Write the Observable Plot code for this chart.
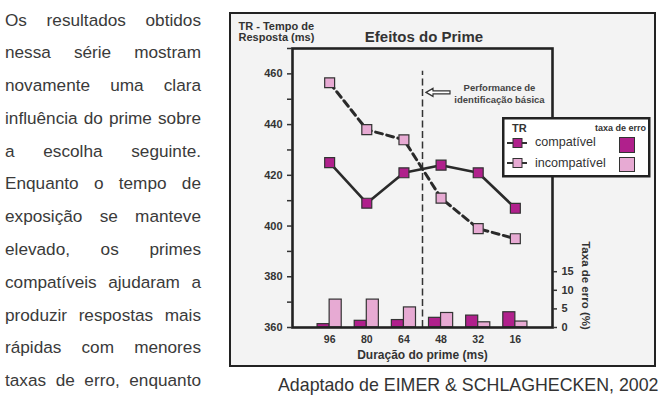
<!DOCTYPE html>
<html><head><meta charset="utf-8">
<script src="https://cdn.jsdelivr.net/npm/d3@7"></script>
<script src="https://cdn.jsdelivr.net/npm/@observablehq/plot@0.6"></script>
<style>
body{margin:0;width:660px;height:398px;overflow:hidden;background:#fff;font-family:"Liberation Sans",Arial,sans-serif;position:relative}
#para{position:absolute;left:5px;top:3.5px;width:196px;font-size:17.2px;line-height:32.8px;color:#3a3a3a}
#para div{text-align:justify;text-align-last:justify;height:32.8px}
#box{position:absolute;left:229px;top:12px;width:423px;height:351px;border:2.5px solid #222;background:#f3f3f3}
#chart{position:absolute;left:0;top:0}
#legend{position:absolute;left:502px;top:117px}
#caption{position:absolute;left:278px;top:375px;font-size:17.8px;color:#333;white-space:nowrap}
</style></head>
<body>
<div id="para">
<div>Os resultados obtidos</div>
<div>nessa série mostram</div>
<div>novamente uma clara</div>
<div>influência do prime sobre</div>
<div>a escolha seguinte.</div>
<div>Enquanto o tempo de</div>
<div>exposição se manteve</div>
<div>elevado, os primes</div>
<div>compatíveis ajudaram a</div>
<div>produzir respostas mais</div>
<div>rápidas com menores</div>
<div>taxas de erro, enquanto</div>
</div>
<div id="box"></div>
<div id="chart"></div>
<svg id="legend" width="150" height="62" font-family="Liberation Sans, Arial, sans-serif">
  <rect x="1.25" y="1.25" width="146" height="58" fill="#fff" stroke="#222" stroke-width="2.5"/>
  <text x="10" y="15" font-size="11" font-weight="bold" fill="#333">TR</text>
  <text x="144" y="14" font-size="9" font-weight="bold" fill="#333" text-anchor="end">taxa de erro</text>
  <line x1="5" x2="25" y1="26" y2="26" stroke="#333" stroke-width="2"/>
  <rect x="11" y="21.5" width="9" height="9" fill="#b0208c" stroke="#333" stroke-width="1"/>
  <text x="33" y="29" font-size="12.6" fill="#333">compatível</text>
  <rect x="117.5" y="20.5" width="15" height="15" fill="#b0208c" stroke="#333" stroke-width="1"/>
  <line x1="5" x2="25" y1="46" y2="46" stroke="#333" stroke-width="2"/>
  <rect x="11" y="41.5" width="9" height="9" fill="#e7aad3" stroke="#333" stroke-width="1"/>
  <text x="33" y="49.5" font-size="12.6" fill="#333">incompatível</text>
  <rect x="117.5" y="40.5" width="15" height="14" fill="#e7aad3" stroke="#333" stroke-width="1"/>
</svg>
<div id="caption">Adaptado de EIMER &amp; SCHLAGHECKEN, 2002</div>
<script>
const durations = [96, 80, 64, 48, 32, 16];
const trCompat = [425, 409, 421, 424, 421, 407];
const trIncompat = [456.5, 438, 434, 411, 399, 395];
const errCompat = [0.9, 1.8, 2.0, 2.6, 3.2, 4.1];
const errIncompat = [7.5, 7.5, 5.4, 3.9, 1.4, 1.6];
const yTicks = [360, 370, 380, 390, 400, 410, 420, 430, 440, 450, 460, 470];
const errTicks = [0, 5, 10, 15];

const DARK = "#b0208c", LIGHT = "#e7aad3", INK = "#2a2a2a";
const K = 22 / 15; // ms per error-%
const e2y = e => 360 + e * K;
const data = durations.map((d, i) => ({i, d, tc: trCompat[i], ti: trIncompat[i], ec: errCompat[i], ei: errIncompat[i]}));
const W = 0.325;
const bIdx = durations.indexOf(64) + 0.5; // performance de identificação básica, between 64 and 48

const arrow = (index, scales) => {
  const x0 = scales.x(bIdx) + 4, y0 = scales.y(452.5);
  const p = document.createElementNS("http://www.w3.org/2000/svg", "path");
  p.setAttribute("d", `M${x0},${y0} l7,-4 v2.5 h17 v3 h-17 v2.5 z`);
  p.setAttribute("fill", "#fff");
  p.setAttribute("stroke", "#333");
  p.setAttribute("stroke-width", "1.2");
  return p;
};

const T = {textAnchor: "middle", lineAnchor: "middle", fontWeight: "bold", fill: "#333"};

const chart = Plot.plot({
  width: 660, height: 398,
  marginLeft: 292, marginRight: 108, marginTop: 48, marginBottom: 71,
  style: {background: "transparent", fontFamily: "Liberation Sans, Arial, sans-serif", color: "#333", overflow: "visible"},
  x: {type: "linear", domain: [-1, durations.length]},
  y: {domain: [360, 470]},
  marks: [
    Plot.rectY(data, {x1: d => d.i - W, x2: d => d.i, y1: 360, y2: d => e2y(d.ec), fill: DARK, stroke: "#333", strokeWidth: 1.2}),
    Plot.rectY(data, {x1: d => d.i, x2: d => d.i + W, y1: 360, y2: d => e2y(d.ei), fill: LIGHT, stroke: "#333", strokeWidth: 1.2}),
    Plot.ruleX([bIdx], {y1: 360, y2: 461, stroke: "#333", strokeWidth: 1.5, strokeDasharray: "7,3.5"}),
    Plot.line(data, {x: "i", y: "ti", stroke: INK, strokeWidth: 3, strokeDasharray: "7,4.5"}),
    Plot.line(data, {x: "i", y: "tc", stroke: INK, strokeWidth: 2.6}),
    Plot.dot(data, {x: "i", y: "ti", symbol: "square", r: 5.6, fill: LIGHT, stroke: "#333", strokeWidth: 1.2}),
    Plot.dot(data, {x: "i", y: "tc", symbol: "square", r: 5.6, fill: DARK, stroke: "#333", strokeWidth: 1.2}),
    Plot.frame({stroke: "#222", strokeWidth: 2.6}),
    Plot.axisY(yTicks, {tickSize: 5, tickPadding: 5, strokeWidth: 1.5, tickFormat: d => d % 20 === 0 ? d : "", fontSize: 11, fontWeight: "bold", label: null}),
    Plot.axisY(errTicks.map(e2y), {anchor: "right", tickSize: 4, tickPadding: 5, strokeWidth: 1.5, tickFormat: v => Math.round((v - 360) / K), fontSize: 11, fontWeight: "bold", label: null}),
    Plot.axisX(data.map(d => d.i), {tickSize: 0, tickPadding: 8, tickFormat: i => durations[i], fontSize: 10.5, fontWeight: "bold", label: null}),
    Plot.text(["Efeitos do Prime"], {...T, frameAnchor: "top", dx: 1.5, dy: -11, fontSize: 15}),
    Plot.text(["TR - Tempo de\nResposta (ms)"], {...T, frameAnchor: "top-left", textAnchor: "start", dx: -54, dy: -16.5, lineHeight: 0.95, fontSize: 11, fontWeight: "bold"}),
    Plot.text(["Performance de\nidentificação básica"], {...T, frameAnchor: "top-left", dx: 207, dy: 44.5, lineHeight: 1.22, fontSize: 9.5, fill: "#444"}),
    Plot.text(["Duração do prime (ms)"], {...T, frameAnchor: "bottom", dy: 28, fontSize: 12}),
    Plot.text(["Taxa de erro (%)"], {...T, frameAnchor: "bottom-right", dx: 33, dy: -42, rotate: 90, fontSize: 11.5}),
    arrow
  ]
});
document.getElementById("chart").appendChild(chart);
</script>
</body></html>
